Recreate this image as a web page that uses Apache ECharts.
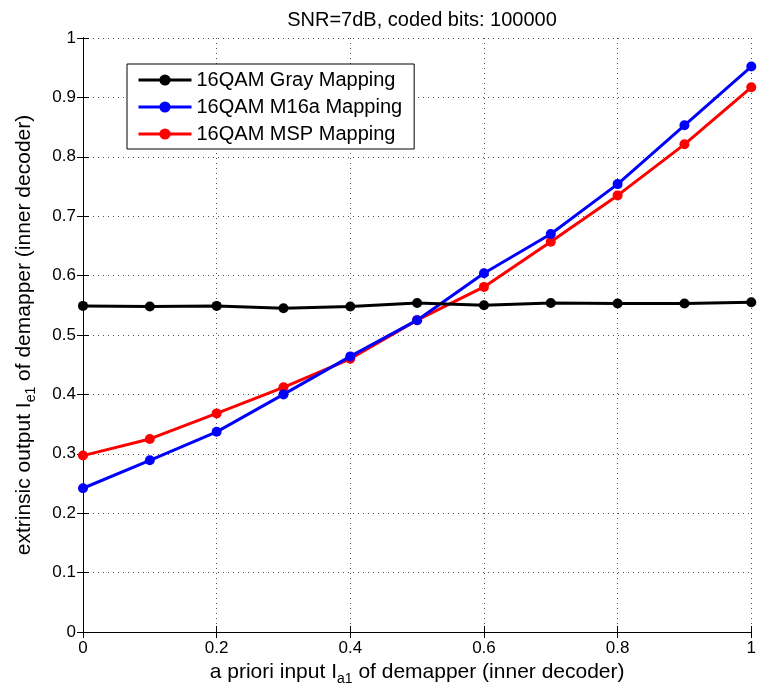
<!DOCTYPE html>
<html><head><meta charset="utf-8">
<script src="https://cdn.jsdelivr.net/npm/echarts@6/dist/echarts.min.js"></script>
<style>html,body{margin:0;padding:0;background:#fff}#c{width:759px;height:695px}</style>
</head><body><div id="c"></div>
<script>
const xValues = [0, 0.1, 0.2, 0.3, 0.4, 0.5, 0.6, 0.7, 0.8, 0.9, 1.0];
const grayMapping = [0.549, 0.548, 0.549, 0.545, 0.548, 0.554, 0.550, 0.554, 0.553, 0.553, 0.555];
const m16aMapping = [0.242, 0.289, 0.337, 0.400, 0.464, 0.525, 0.604, 0.670, 0.754, 0.853, 0.952];
const mspMapping  = [0.297, 0.325, 0.368, 0.412, 0.460, 0.525, 0.581, 0.657, 0.735, 0.821, 0.917];
const seriesNames = ['16QAM Gray Mapping', '16QAM M16a Mapping', '16QAM MSP Mapping'];
const seriesColors = ['#000000', '#0000ff', '#ff0000'];
const titleText = 'SNR=7dB, coded bits: 100000';

const FONT = '"Liberation Sans", Arial, sans-serif';
const chart = echarts.init(document.getElementById('c'));
const pair = arr => xValues.map((x, i) => [x, arr[i]]);
const allData = [grayMapping, m16aMapping, mspMapping];

const grid = {left: 83, right: 6, top: 38, bottom: 63};
const axisLineStyle = {lineStyle: {color: '#000', width: 1}};
const splitLine = {show: true, lineStyle: {color: '#000', type: [1, 4], width: 1, opacity: 0.7}};
const nameRich = {
  n: {fontFamily: FONT, fontSize: 21, color: '#000'},
  s: {fontFamily: FONT, fontSize: 14, color: '#000', padding: [13, 0, 0, 0]}
};

chart.setOption({
  backgroundColor: '#fff',
  animation: false,
  title: {text: titleText, left: 417, top: 5, textAlign: 'center',
    textStyle: {fontFamily: FONT, fontSize: 20, fontWeight: 'normal', color: '#000'}},
  legend: {
    left: 127, top: 64, orient: 'vertical', itemGap: 7,
    itemWidth: 53, itemHeight: 14,
    backgroundColor: '#fff', borderColor: '#000', borderWidth: 1,
    padding: [6, 12, 5, 10],
    lineStyle: {width: 3},
    textStyle: {fontFamily: FONT, fontSize: 20, color: '#000'},
    data: seriesNames
  },
  grid: grid,
  xAxis: [{
    type: 'value', min: 0, max: 1, interval: 0.2,
    axisLine: axisLineStyle,
    axisTick: {inside: true, length: 6, lineStyle: {color: '#000'}},
    axisLabel: {fontFamily: FONT, fontSize: 17, color: '#000', margin: 8,
      formatter: v => String(+v.toFixed(1))},
    splitLine: splitLine,
    name: '{n|a priori input I}{s|a1}{n| of demapper (inner decoder)}',
    nameLocation: 'middle', nameGap: 26,
    nameTextStyle: {fontFamily: FONT, fontSize: 21, color: '#000', rich: nameRich}
  }, {
    type: 'value', min: 0, max: 1, interval: 0.2, position: 'top',
    axisLine: axisLineStyle,
    axisTick: {inside: true, length: 6, lineStyle: {color: '#000'}},
    axisLabel: {show: false}, splitLine: {show: false}
  }],
  yAxis: [{
    type: 'value', min: 0, max: 1, interval: 0.1,
    axisLine: {show: true, lineStyle: {color: '#000'}},
    axisTick: {show: true, inside: true, length: 6, lineStyle: {color: '#000'}},
    axisLabel: {fontFamily: FONT, fontSize: 17, color: '#000', margin: 7,
      formatter: v => String(+v.toFixed(1))},
    splitLine: splitLine,
    name: '{n|extrinsic output I}{s|e1}{n| of demapper (inner decoder)}',
    nameLocation: 'middle', nameGap: 45, nameRotate: 90,
    nameTextStyle: {fontFamily: FONT, fontSize: 21, color: '#000', rich: nameRich}
  }, {
    type: 'value', min: 0, max: 1, interval: 0.1, position: 'right',
    axisLine: {show: true, lineStyle: {color: '#000'}},
    axisTick: {show: true, inside: true, length: 6, lineStyle: {color: '#000'}},
    axisLabel: {show: false}, splitLine: {show: false}
  }],
  series: seriesNames.map((n, i) => ({
    name: n, type: 'line', data: pair(allData[i]),
    symbol: 'circle', symbolSize: 10,
    lineStyle: {width: 3, color: seriesColors[i]},
    itemStyle: {color: seriesColors[i]},
    z: 5 - i
  }))
});
</script></body></html>
